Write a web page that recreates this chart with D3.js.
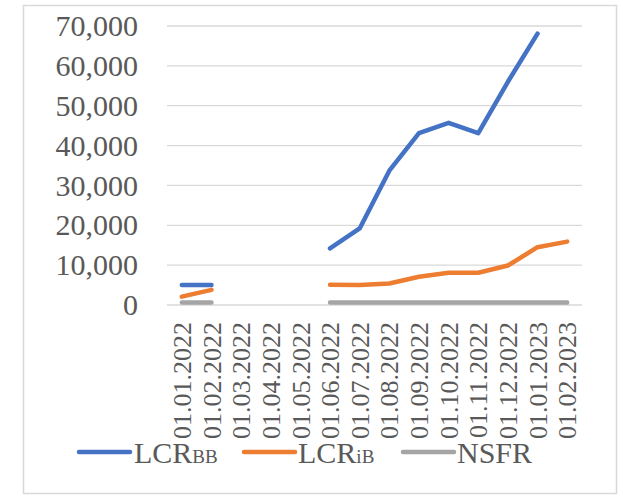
<!DOCTYPE html>
<html>
<head>
<meta charset="utf-8">
<script src="https://cdn.jsdelivr.net/npm/d3@7"></script>
<style>
  html, body { margin: 0; padding: 0; background: #fff; }
  svg { display: block; }
  text { font-family: "Liberation Serif", "Times New Roman", serif; fill: #595959; }
</style>
</head>
<body>
<svg id="chart" width="623" height="501"></svg>
<script>
// Monthly dates (category axis)
const categories = [
  "01.01.2022", "01.02.2022", "01.03.2022", "01.04.2022", "01.05.2022",
  "01.06.2022", "01.07.2022", "01.08.2022", "01.09.2022", "01.10.2022",
  "01.11.2022", "01.12.2022", "01.01.2023", "01.02.2023"
];
// Series values (null = no data for that month)
const lcrBB = [5000, 5000, null, null, null, 14200, 19200, 33700, 43100, 45700, 43100, 56000, 68100, null];
const lcrIB = [2100, 3800, null, null, null, 5100, 5000, 5400, 7100, 8100, 8100, 9900, 14500, 15900];
const nsfr  = [600, 600, null, null, null, 600, 600, 600, 600, 600, 600, 600, 600, 650];
const yTicks = [0, 10000, 20000, 30000, 40000, 50000, 60000, 70000];

const series = [
  { name: "LCR", sub: "BB", values: lcrBB, color: "#4472C4" },
  { name: "LCR", sub: "iB", values: lcrIB, color: "#ED7D31" },
  { name: "NSFR", sub: "", values: nsfr, color: "#A5A5A5" }
];

const svg = d3.select("#chart");

// Outer chart border
svg.append("rect")
  .attr("x", 23.5).attr("y", 5.5)
  .attr("width", 593).attr("height", 488)
  .attr("fill", "#fff")
  .attr("stroke", "#d9d9d9")
  .attr("stroke-width", 1.5);

const plot = { left: 167, right: 582, top: 26, bottom: 305 };

const x = d3.scaleBand()
  .domain(categories)
  .range([plot.left, plot.right]);

const y = d3.scaleLinear()
  .domain([0, 70000])
  .range([plot.bottom, plot.top]);

// Horizontal gridlines
svg.append("g")
  .selectAll("line")
  .data(yTicks)
  .join("line")
  .attr("x1", plot.left).attr("x2", plot.right)
  .attr("y1", d => y(d)).attr("y2", d => y(d))
  .attr("stroke", "#d9d9d9")
  .attr("stroke-width", 1.3);

// Y axis labels
const yAxis = d3.axisLeft(y)
  .tickValues(yTicks)
  .tickFormat(d3.format(","))
  .tickSize(0)
  .tickPadding(0);
const yg = svg.append("g")
  .attr("transform", `translate(138,0)`)
  .call(yAxis);
yg.select(".domain").remove();
yg.selectAll("text")
  .attr("font-family", "Liberation Serif, serif")
  .attr("font-size", 30)
  .attr("fill", "#595959");

// X axis labels, rotated
const xAxis = d3.axisBottom(x).tickSize(0).tickPadding(0);
const xg = svg.append("g")
  .attr("transform", `translate(0,${plot.bottom})`)
  .call(xAxis);
xg.select(".domain").remove();
xg.selectAll("text")
  .attr("font-family", "Liberation Serif, serif")
  .attr("font-size", 26)
  .attr("fill", "#595959")
  .attr("text-anchor", "end")
  .attr("transform", "translate(0,17) rotate(-90)")
  .attr("x", 0)
  .attr("y", 0)
  .attr("dy", "0.35em");

// Lines
const line = d3.line()
  .defined(d => d != null)
  .x((d, i) => x(categories[i]) + x.bandwidth() / 2)
  .y(d => y(d));

svg.append("g")
  .selectAll("path")
  .data(series.slice().reverse())
  .join("path")
  .attr("d", s => line(s.values))
  .attr("fill", "none")
  .attr("stroke", s => s.color)
  .attr("stroke-width", 4.5)
  .attr("stroke-linecap", "round")
  .attr("stroke-linejoin", "round");

// Legend
const legendItems = [
  { lx: 79, tx: 134 },
  { lx: 244, tx: 298 },
  { lx: 403, tx: 457 }
];
const legend = svg.append("g");
series.forEach((s, i) => {
  const p = legendItems[i];
  legend.append("line")
    .attr("x1", p.lx).attr("x2", p.lx + 51)
    .attr("y1", 452).attr("y2", 452)
    .attr("stroke", s.color)
    .attr("stroke-width", 4.5)
    .attr("stroke-linecap", "round");
  const t = legend.append("text")
    .attr("x", p.tx).attr("y", 463)
    .attr("font-size", 30);
  t.append("tspan").text(s.name);
  if (s.sub) {
    t.append("tspan").attr("font-size", 19).text(s.sub.toUpperCase() === s.sub ? s.sub : s.sub);
  }
});
</script>
</body>
</html>
